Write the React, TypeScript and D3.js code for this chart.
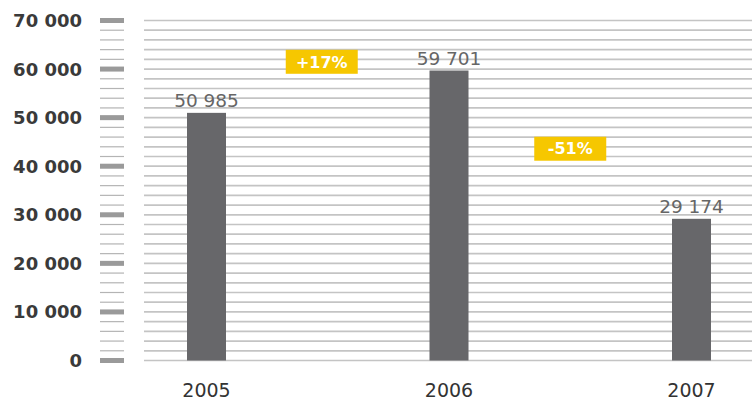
import React from "react";
import * as d3 from "d3";

const years = ["2005", "2006", "2007"];
const values = [50985, 59701, 29174];
const valueLabels = ["50 985", "59 701", "29 174"];
const yMajorTicks = [0, 10000, 20000, 30000, 40000, 50000, 60000, 70000];
const yMajorLabels = ["0", "10 000", "20 000", "30 000", "40 000", "50 000", "60 000", "70 000"];
const gridStep = 2000;
const changeLabels = ["+17%", "-51%"];
const changeLevels = [61500, 43600];

const W = 752;
const H = 401;

export default function App() {
  const x = d3.scalePoint<string>().domain(years).range([206.5, 691.5]);
  const y = d3.scaleLinear().domain([0, 70000]).range([360.5, 20.5]);
  const gridVals = d3.range(0, 70000 + 1, gridStep);
  const barW = 39;
  const font = "'DejaVu Sans', Verdana, sans-serif";

  return (
    <svg
      width={W}
      height={H}
      style={{ position: "absolute", left: 0, top: 0, background: "#fff" }}
    >
      {/* plot grid */}
      {gridVals.map((v) => (
        <line
          key={"g" + v}
          x1={144}
          x2={W}
          y1={y(v)}
          y2={y(v)}
          stroke="#c4c4c4"
          strokeWidth={1.7}
        />
      ))}
      {/* axis minor ticks */}
      {gridVals
        .filter((v) => v % 10000 !== 0)
        .map((v) => (
          <line
            key={"m" + v}
            x1={100}
            x2={124}
            y1={y(v)}
            y2={y(v)}
            stroke="#b4b4b4"
            strokeWidth={1.2}
          />
        ))}
      {/* axis major ticks */}
      {yMajorTicks.map((v) => (
        <rect key={"M" + v} x={100} y={y(v) - 2.5} width={24} height={5} fill="#9a9a9a" />
      ))}
      {yMajorTicks.map((v, i) => (
        <text
          key={"l" + v}
          x={82}
          y={y(v)}
          dy="0.36em"
          textAnchor="end"
          fontFamily={font}
          fontWeight="bold"
          fontSize={18}
          fill="#3a3a3a"
        >
          {yMajorLabels[i]}
        </text>
      ))}
      {/* bars */}
      {years.map((yr, i) => (
        <rect
          key={"b" + yr}
          x={(x(yr) as number) - barW / 2}
          y={y(values[i])}
          width={barW}
          height={y(0) - y(values[i])}
          fill="#67676a"
        />
      ))}
      {years.map((yr, i) => (
        <text
          key={"v" + yr}
          x={x(yr) as number}
          y={y(values[i]) - 6}
          textAnchor="middle"
          fontFamily={font}
          fontSize={18.5}
          fill="#666"
        >
          {valueLabels[i]}
        </text>
      ))}
      {years.map((yr) => (
        <text
          key={"x" + yr}
          x={x(yr) as number}
          y={397}
          textAnchor="middle"
          fontFamily={font}
          fontSize={19}
          fill="#333"
        >
          {yr}
        </text>
      ))}
      {/* change badges */}
      {changeLabels.map((lab, i) => {
        const cx = ((x(years[i]) as number) + (x(years[i + 1]) as number)) / 2 - (i === 0 ? 6 : 0);
        const cy = y(changeLevels[i]);
        const bw = 72;
        const bh = 24;
        return (
          <g key={"c" + i}>
            <rect x={cx - bw / 2} y={cy - bh / 2} width={bw} height={bh} fill="#f6c700" />
            <text
              x={cx}
              y={cy}
              dy="0.36em"
              textAnchor="middle"
              fontFamily={font}
              fontWeight="bold"
              fontSize={16}
              fill="#fff"
            >
              {lab}
            </text>
          </g>
        );
      })}
    </svg>
  );
}
